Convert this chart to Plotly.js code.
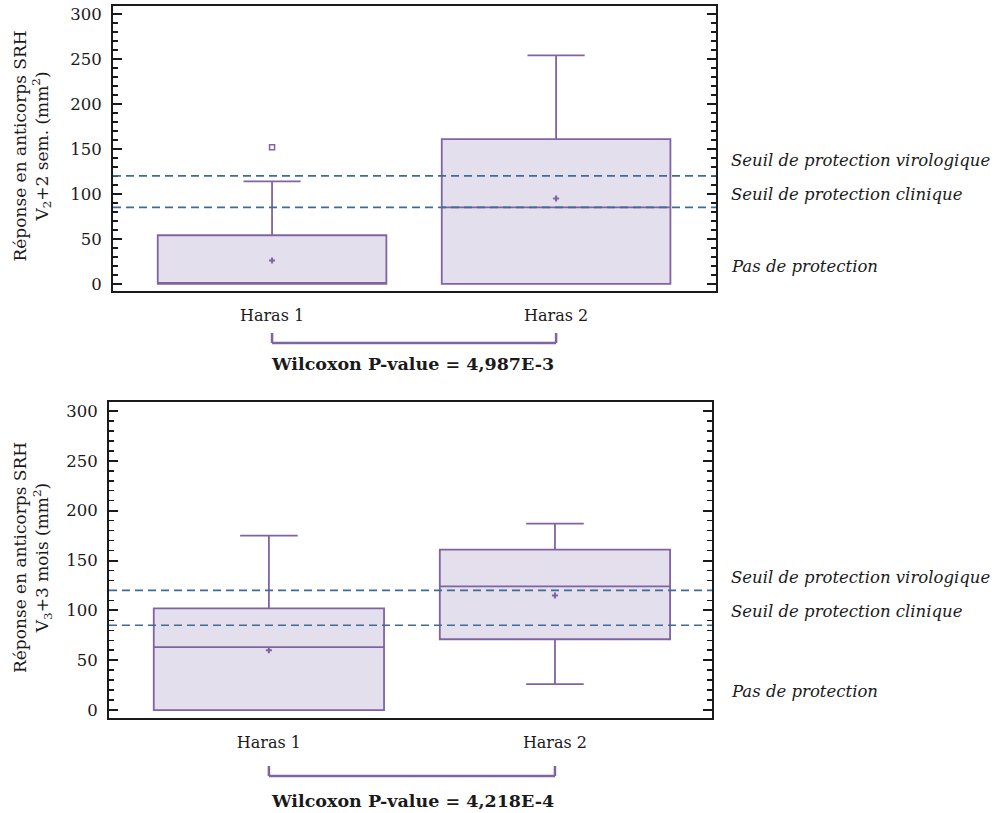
<!DOCTYPE html>
<html>
<head>
<meta charset="utf-8">
<script src="https://cdn.plot.ly/plotly-3.0.1.min.js"></script>
<style>html,body{margin:0;padding:0;background:#fff;}#chart{width:997px;height:813px;}</style>
</head>
<body>
<div id="chart"></div>
<script>
// ---- data ----
const categories = ['Haras 1', 'Haras 2'];
const tickLabels = ['Haras 1', 'Haras 2'];

// V2 + 2 semaines
const v2Q1 = [0, 0];
const v2Median = [0, 85];
const v2Q3 = [54, 161];
const v2Lower = [0, 0];
const v2Upper = [114, 254];
const v2Mean = [26, 95];
const v2OutlierCat = ['Haras 1'];
const v2OutlierVal = [152];

// V3 + 3 mois
const v3Q1 = [0, 71];
const v3Median = [63, 124];
const v3Q3 = [102, 161];
const v3Lower = [0, 26];
const v3Upper = [175, 187];
const v3Mean = [60, 115];

const thresholds = [120, 85];
const thresholdLabels = ['Seuil de protection virologique', 'Seuil de protection clinique', 'Pas de protection'];
const pValues = ['Wilcoxon P-value = 4,987E-3', 'Wilcoxon P-value = 4,218E-4'];
const yTitles = ['Réponse en anticorps SRH<br>V<sub>2</sub>+2 sem. (mm<sup>2</sup>)',
                 'Réponse en anticorps SRH<br>V<sub>3</sub>+3 mois (mm<sup>2</sup>)'];

// ---- style ----
const PURPLE = '#8064a2';
const FILL = '#e4dfec';
const BLUE = '#3f6b9b';
const INK = '#1a1a1a';
const FONT = 'DejaVu Serif, serif';
const W = 997, H = 813;

function boxTrace(q1, med, q3, lo, hi, xa, ya) {
  return {
    type: 'box', x: categories, q1: q1, median: med, q3: q3,
    lowerfence: lo, upperfence: hi, boxpoints: false,
    width: 0.805, whiskerwidth: 0.25,
    line: {color: PURPLE, width: 1.8}, fillcolor: FILL,
    xaxis: xa, yaxis: ya, showlegend: false, hoverinfo: 'skip'
  };
}
function meanTrace(m, xa, ya) {
  return {type: 'scatter', mode: 'markers', x: categories, y: m,
    marker: {symbol: 'cross', size: 5, color: PURPLE},
    xaxis: xa, yaxis: ya, showlegend: false, hoverinfo: 'skip'};
}

const data = [
  boxTrace(v2Q1, v2Median, v2Q3, v2Lower, v2Upper, 'x', 'y'),
  meanTrace(v2Mean, 'x', 'y'),
  {type: 'scatter', mode: 'markers', x: v2OutlierCat, y: v2OutlierVal,
   marker: {symbol: 'square-open', size: 5, color: PURPLE, line: {width: 1.5}},
   xaxis: 'x', yaxis: 'y', showlegend: false, hoverinfo: 'skip'},
  boxTrace(v3Q1, v3Median, v3Q3, v3Lower, v3Upper, 'x2', 'y2'),
  meanTrace(v3Mean, 'x2', 'y2')
];

function yAxis(dom) {
  return {
    domain: dom, range: [-8, 309], tickmode: 'array', tickvals: [0, 50, 100, 150, 200, 250, 300],
    ticks: 'inside', ticklen: 9, tickwidth: 2, tickcolor: INK,
    minor: {dtick: 10, tick0: 0, ticks: 'inside', ticklen: 5, tickwidth: 1.5, tickcolor: INK},
    showline: true, linecolor: INK, linewidth: 2, mirror: 'ticks',
    showgrid: false, zeroline: false, ticklabelstandoff: 6,
    tickfont: {family: FONT, size: 16.5, color: INK}, fixedrange: true
  };
}
function xAxis(dom, rng, ya) {
  return {
    domain: dom, range: rng, type: 'category', categoryarray: categories,
    tickmode: 'array', tickvals: categories, ticktext: tickLabels,
    ticks: '', showline: true, linecolor: INK, linewidth: 2, mirror: true,
    showgrid: false, zeroline: false, ticklabelstandoff: 9,
    tickfont: {family: FONT, size: 16, color: INK}, anchor: ya, fixedrange: true
  };
}

const frameTop = {l: 113, r: 716, t: 6, b: 291};
const frameBot = {l: 109, r: 712, t: 402, b: 718};

const shapes = [];
const annotations = [];
[['x', 'y', frameTop], ['x2', 'y2', frameBot]].forEach(([xa, ya, f], i) => {
  thresholds.forEach(t => shapes.push({type: 'line', xref: xa + ' domain', yref: ya, x0: 0, x1: 1, y0: t, y1: t,
    line: {color: BLUE, width: 1.6, dash: '8px,5px'}}));
  // bracket
  const yb = i === 0 ? 343 : 776;
  const yl = yb - 10;
  const py = v => 1 - v / H;
  shapes.push({type: 'line', xref: xa, yref: 'paper', x0: 0, x1: 1, y0: py(yb), y1: py(yb), line: {color: PURPLE, width: 2.5}});
  shapes.push({type: 'line', xref: xa, yref: 'paper', x0: 0, x1: 0, y0: py(yl), y1: py(yb), line: {color: PURPLE, width: 2.5}});
  shapes.push({type: 'line', xref: xa, yref: 'paper', x0: 1, x1: 1, y0: py(yl), y1: py(yb), line: {color: PURPLE, width: 2.5}});
  annotations.push({xref: 'paper', yref: 'paper', x: 412 / W, y: py(i === 0 ? 364 : 801), text: '<b>' + pValues[i] + '</b>',
    showarrow: false, xanchor: 'center', yanchor: 'middle', font: {family: FONT, size: 17.5, color: INK}});
  // threshold labels
  const ly = i === 0 ? [161, 195, 266] : [577, 611, 691];
  thresholdLabels.forEach((t, k) => annotations.push({xref: 'paper', yref: 'paper', x: 729 / W, y: py(ly[k]),
    text: '<i>' + t + '</i>', showarrow: false, xanchor: 'left', yanchor: 'middle',
    font: {family: FONT, size: 16.5, color: INK}}));
  // y title
  annotations.push({xref: 'paper', yref: 'paper', x: 32 / W, y: py((f.t + f.b) / 2 - 2), text: yTitles[i],
    textangle: -90, showarrow: false, xanchor: 'center', yanchor: 'middle',
    font: {family: FONT, size: 17, color: INK}});
});

const layout = {
  width: W, height: H, margin: {l: 0, r: 0, t: 0, b: 0},
  paper_bgcolor: '#fff', plot_bgcolor: '#fff', showlegend: false,
  font: {family: FONT, color: INK},
  xaxis: xAxis([frameTop.l / W, frameTop.r / W], [-0.56, 1.563], 'y'),
  yaxis: yAxis([1 - frameTop.b / H, 1 - frameTop.t / H]),
  xaxis2: xAxis([frameBot.l / W, frameBot.r / W], [-0.559, 1.549], 'y2'),
  yaxis2: yAxis([1 - frameBot.b / H, 1 - frameBot.t / H]),
  shapes: shapes, annotations: annotations
};
layout.yaxis2.anchor = 'x2';
layout.yaxis.anchor = 'x';

Plotly.newPlot('chart', data, layout, {displayModeBar: false, staticPlot: true});
</script>
</body>
</html>
